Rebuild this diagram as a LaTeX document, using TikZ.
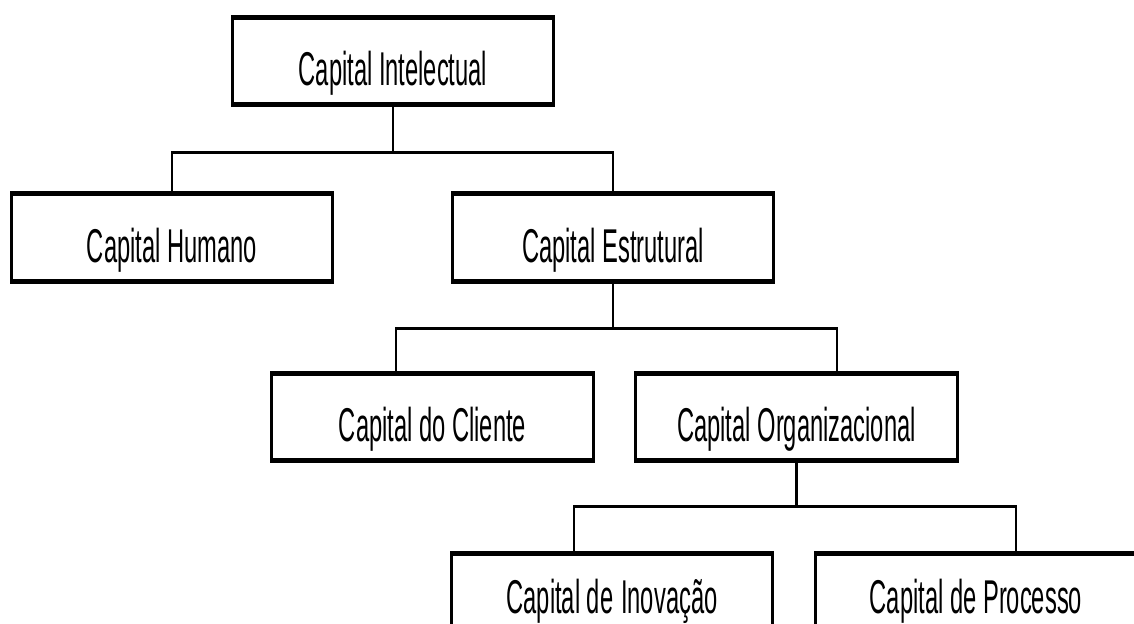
\documentclass[tikz,border=0pt]{standalone}
\usepackage{fontspec}
\newfontfamily\capfont[FakeStretch=0.5]{Liberation Sans}
\usetikzlibrary{calc}

\begin{document}
\begin{tikzpicture}[x=0.02cm, y=-0.02cm,
  capbox/.style={rectangle, draw, line width=1.7pt, minimum width=6.44cm, minimum height=1.8cm, inner sep=0pt,
    font=\capfont\fontsize{27}{31}\selectfont, text height=28pt, text depth=0pt,
    path picture={\draw[line width=4pt] (path picture bounding box.north west) -- (path picture bounding box.north east)
      (path picture bounding box.south west) -- (path picture bounding box.south east);}},
  lowbox/.style={capbox, text height=19pt},
  link/.style={line width=1.7pt}
]
  \useasboundingbox (0,0) rectangle (1134,624);
  \clip (0,0) rectangle (1134,624);

  \node[capbox] (intel) at (393,61) {Capital Intelectual};
  \node[capbox] (hum) at (172,237.5) {Capital Humano};
  \node[capbox] (est) at (613,237.5) {Capital Estrutural};
  \node[capbox] (cli) at (432.5,417) {Capital do Cliente};
  \node[capbox] (org) at (796.5,417) {Capital Organizacional};
  \node[lowbox] (inov) at (612,597) {Capital de\,Inovação};
  \node[lowbox] (proc) at (976,597) {Capital de Processo};

  \draw[link] (intel.south) -- ++(0,45) coordinate (j1) -| (hum.north);
  \draw[link] (j1) -| (est.north);

  \draw[link] (est.south) -- ++(0,45) coordinate (j2) -| ($(cli.north)+(-36.5,0)$);
  \draw[link] (j2) -| ($(org.north)+(40.5,0)$);

  \draw[link] (org.south) -- ++(0,43) coordinate (j3) -| ($(inov.north)+(-38,0)$);
  \draw[link] (j3) -| ($(proc.north)+(40,0)$);
\end{tikzpicture}
\end{document}
